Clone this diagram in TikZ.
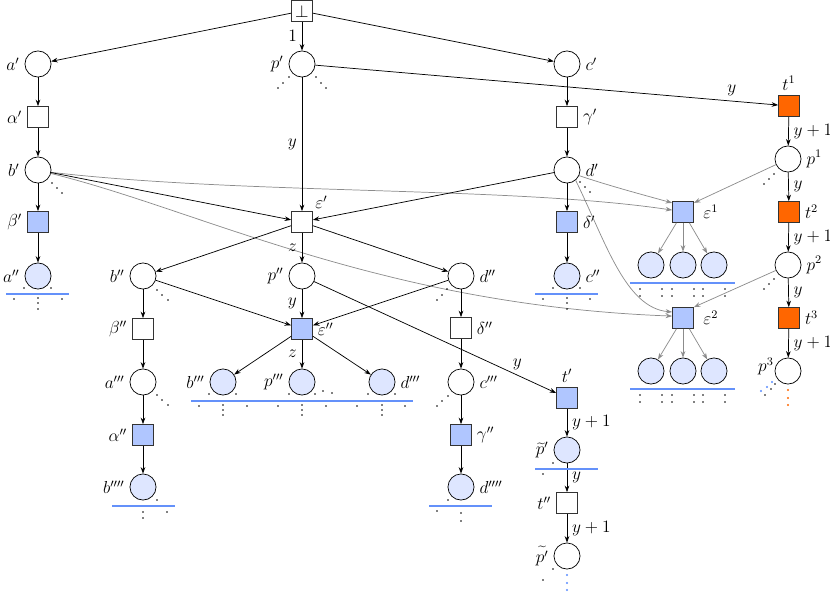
\documentclass[tikz,border=0pt]{standalone}
\usetikzlibrary{arrows.meta}
\definecolor{boxblue}{RGB}{176,198,255}
\definecolor{leafblue}{RGB}{222,230,255}
\definecolor{barblue}{RGB}{100,145,250}
\definecolor{orng}{RGB}{255,102,0}
\definecolor{dotblue}{RGB}{90,140,255}
\begin{document}
\begin{tikzpicture}[x=0.69pt,y=-0.69pt,
 every node/.style={font=\fontsize{12}{14}\selectfont},
 >={Stealth[length=4.5pt,width=3.2pt]},
 pl/.style={circle,draw,minimum size=18pt,inner sep=0pt,line width=0.5pt,fill=white},
 leaf/.style={pl,fill=leafblue},
 tr/.style={rectangle,draw=black!80,minimum size=14.5pt,inner sep=0pt,line width=0.5pt,fill=white},
 tb/.style={tr,fill=boxblue},
 ob/.style={tr,fill=orng},
 arr/.style={->,line width=0.5pt},
 garr/.style={->,draw=black!45,line width=0.5pt},
 bluebar/.style={draw=barblue,line width=1.8pt}]
\useasboundingbox (0,0) rectangle (830,598);

% main tree nodes
\node[tr] (bot) at (302,11) {$\bot$};
\node[pl,label=left:$a'$] (a1) at (38,64) {};
\node[pl,label=left:$p'$] (p1) at (302,64) {};
\node[pl,label=right:$c'$] (c1) at (567,64) {};
\node[tr,label=left:$\alpha'$] (al1) at (38,117) {};
\node[tr,label=right:$\gamma'$] (ga1) at (567,117) {};
\node[pl,label=left:$b'$] (b1) at (38,170) {};
\node[pl,label=right:$d'$] (d1) at (567,170) {};
\node[tb,label=left:$\beta'$] (be1) at (38,222) {};
\node[tr,label={[anchor=south west,inner sep=1.5pt]north east:$\varepsilon'$}] (e1) at (302,222) {};
\node[tb,label=right:$\delta'$] (de1) at (567,222) {};
\node[leaf,label=left:$a''$] (a2) at (38,276) {};
\node[pl,label=left:$b''$] (b2) at (143,276) {};
\node[pl,label=left:$p''$] (p2) at (302,276) {};
\node[pl,label=right:$d''$] (d2) at (461,276) {};
\node[leaf,label=right:$c''$] (c2) at (567,276) {};
\node[tr,label=left:$\beta''$] (be2) at (143,329) {};
\node[tb,label=right:$\varepsilon''$] (e2) at (302,329) {};
\node[tr,label=right:$\delta''$] (de2) at (461,328) {};
\node[pl,label=left:$a'''$] (a3) at (143,382) {};
\node[leaf,label=left:$b'''$] (b3) at (223,382) {};
\node[leaf,label=left:$p'''$] (p3) at (302,382) {};
\node[leaf,label=right:$d'''$] (d3) at (382,382) {};
\node[pl,label=right:$c'''$] (c3) at (461,382) {};
\node[tb,label=above:$t'$] (t1) at (567,398) {};
\node[tb,label=left:$\alpha''$] (al2) at (143,435) {};
\node[tb,label=right:$\gamma''$] (ga2) at (461,435) {};
\node[leaf,label=left:$\widetilde{p}'$] (pt1) at (567,450) {};
\node[leaf,label=left:$b''''$] (b4) at (143,487) {};
\node[leaf,label=right:$d''''$] (d4) at (461,487) {};
\node[tr,label=left:$t''$] (t2) at (567,503) {};
\node[pl,label=left:$\widetilde{p'}$] (pt2) at (567,556) {};

% right column
\node[ob,label=above:$t^1$] (tA) at (789,106) {};
\node[pl,label=right:$p^1$] (pA) at (788,159) {};
\node[ob,label=right:$t^2$] (tB) at (789,212) {};
\node[pl,label=right:$p^2$] (pB) at (788,265) {};
\node[ob,label=right:$t^3$] (tC) at (789,318) {};
\node[pl,label={[anchor=east,inner sep=1pt]160:$p^3$}] (pC) at (788,371) {};
\node[tb,label={[label distance=3pt]right:$\varepsilon^1$}] (eA) at (683,212) {};
\node[tb,label={[label distance=3pt]right:$\varepsilon^2$}] (eB) at (683,318) {};
\node[leaf] (eA1) at (651,265) {};
\node[leaf] (eA2) at (683,265) {};
\node[leaf] (eA3) at (714,265) {};
\node[leaf] (eB1) at (651,371) {};
\node[leaf] (eB2) at (683,371) {};
\node[leaf] (eB3) at (714,371) {};

% gray connectors
\draw[garr] (b1.-10) .. controls (250,195) and (510,186) .. (eA.170);
\draw[garr] (d1.-25) .. controls (610,186) and (640,194) .. (eA.140);
\draw[garr] (pA) -- (eA.40);
\draw[garr] (b1.-15) .. controls (200,210) and (380,305) .. (eB.170);
\draw[garr] (d1.-50) .. controls (605,240) and (625,308) .. (eB.151);
\draw[garr] (pB) -- (eB.north east);
\foreach \c in {eA1,eA2,eA3} \draw[garr] (eA) -- (\c);
\foreach \c in {eB1,eB2,eB3} \draw[garr] (eB) -- (\c);

% black connectors
\draw[arr] (bot) -- (a1);
\draw[arr] (bot) -- node[left]{$1$} (p1);
\draw[arr] (bot) -- (c1);
\draw[arr] (a1) -- (al1);
\draw[arr] (al1) -- (b1);
\draw[arr] (b1) -- (be1);
\draw[arr] (be1) -- (a2);
\draw[arr] (c1) -- (ga1);
\draw[arr] (ga1) -- (d1);
\draw[arr] (d1) -- (de1);
\draw[arr] (de1) -- (c2);
\draw[arr] (p1) -- node[pos=0.9,above]{$y$} (tA);
\draw[arr] (p1) -- node[left]{$y$} (e1);
\draw[arr] (b1) -- (e1);
\draw[arr] (d1) -- (e1);
\draw[arr] (e1) -- (b2);
\draw[arr] (e1) -- node[left]{$z$} (p2);
\draw[arr] (e1) -- (d2);
\draw[arr] (b2) -- (be2);
\draw[arr] (be2) -- (a3);
\draw[arr] (a3) -- (al2);
\draw[arr] (al2) -- (b4);
\draw[arr] (d2) -- (de2);
\draw[arr] (de2) -- (c3);
\draw[arr] (c3) -- (ga2);
\draw[arr] (ga2) -- (d4);
\draw[arr] (b2) -- (e2);
\draw[arr] (p2) -- node[left]{$y$} (e2);
\draw[arr] (d2) -- (e2);
\draw[arr] (e2) -- (b3);
\draw[arr] (e2) -- node[left]{$z$} (p3);
\draw[arr] (e2) -- (d3);
\draw[arr] (p2) -- node[pos=0.84,above]{$y$} (t1);
\draw[arr] (t1) -- node[right]{$y+1$} (pt1);
\draw[arr] (pt1) -- node[right]{$y$} (t2);
\draw[arr] (t2) -- node[right]{$y+1$} (pt2);
\draw[arr] (tA) -- node[right]{$y+1$} (pA);
\draw[arr] (pA) -- node[right]{$y$} (tB);
\draw[arr] (tB) -- node[right]{$y+1$} (pB);
\draw[arr] (pB) -- node[right]{$y$} (tC);
\draw[arr] (tC) -- node[right]{$y+1$} (pC);

% blue bars
\draw[bluebar] (6,294) -- (69,294);
\draw[bluebar] (535,294) -- (598,294);
\draw[bluebar] (191,401) -- (413,401);
\draw[bluebar] (112,506) -- (175,506);
\draw[bluebar] (429,506) -- (492,506);
\draw[bluebar] (535,469) -- (598,469);
\draw[bluebar] (630,283) -- (735,283);
\draw[bluebar] (630,389) -- (735,389);

% dots
\foreach \q in {(278,88),(283,83),(289,77),(316,77),(321,83),(326,88),
  (52,183),(57,188),(62,193),
  (580,182),(585,187),(590,192),
  (764,184),(769,179),(774,174),(764,289),(769,284),(774,279),
  (24,288),(51,288),(14,299),(38,298),(62,299),(38,303),(38,309),
  (553,288),(580,288),(543,299),(567,298),(590,299),(567,303),(567,309),
  (437,300),(442,295),(447,289),
  (157,290),(162,295),(168,300),
  (157,395),(162,400),(168,405),
  (437,406),(442,401),(448,396),
  (209,394),(236,394),(289,394),(315,394),(323,391),(332,393),(368,394),(395,394),
  (199,406),(223,405),(247,406),(278,406),(302,405),(326,406),(357,406),(382,405),(405,406),
  (223,410),(223,415),(302,410),(302,415),(382,410),(382,415),
  (157,500),(143,512),(167,512),(143,518),
  (448,500),(437,511),(461,513),(461,521),
  (553,463),(543,474),
  (553,569),(543,580),
  (640,289),(662,289),(672,289),(694,289),(703,289),(725,289),
  (640,296),(662,296),(672,296),(694,296),(703,296),(725,296),
  (640,395),(662,395),(672,395),(694,395),(703,395),(725,395),
  (640,402),(662,402),(672,402),(694,402),(703,402),(725,402),
  (765,395),(771,389),(775,384)}
  \fill \q circle (0.9);
\foreach \q in {(567,575),(567,583),(567,590),(761,391),(767,387),(772,382)}
  \fill[dotblue] \q circle (1.1);
\foreach \q in {(788,390),(788,398),(788,405)}
  \fill[orng] \q circle (1.1);
\end{tikzpicture}
\end{document}
